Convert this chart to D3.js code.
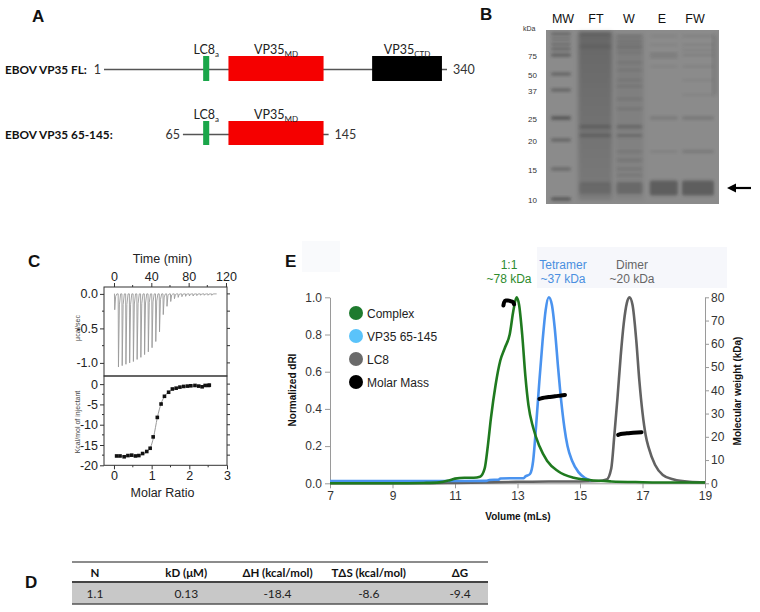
<!DOCTYPE html>
<html><head><meta charset="utf-8">
<script src="https://cdn.jsdelivr.net/npm/d3@7"></script>
<style>body{margin:0;background:#fff}svg{display:block}</style>
</head><body><svg id="fig" width="760" height="612"></svg>
<script>
// ================= DATA =================
// Panel A: construct schematic (schematic residue positions)
const constructNames = ["EBOV VP35 FL:", "EBOV VP35 65-145:"];
const constructStart = ["1", "65"];
const constructEnd = ["340", "145"];
const lineSpan = [[1, 340], [79, 223]];
const domainLabel = [["LC8", "a"], ["VP35", "MD"], ["VP35", "CTD"]];
const domainSpan = [[99, 105], [124, 218], [266, 335]];
const domainColors = ["#1aa64a", "#f50000", "#000000"];
const domainsPerConstruct = [[0, 1, 2], [0, 1]];

// Panel B: SDS-PAGE gel
const gelLanes = ["MW", "FT", "W", "E", "FW"];
const markerKDa = [75, 50, 37, 25, 20, 15, 10];
// bands: [kDa, intensity, thickness]
const bandsMW = [[250,0.35,3],[200,0.3,2],[160,0.3,3],[100,0.35,3],[75,0.45,3],[50,0.4,3],[37,0.4,3],[25,0.45,4],[20,0.4,3],[15,0.35,3],[10,0.55,3]];
const bandsFT = [[250,0.12,4],[130,0.1,4],[23,0.28,3],[21,0.25,3],[12,0.18,12]];
const bandsW  = [[230,0.15,2],[180,0.15,2],[140,0.15,2],[110,0.12,2],[85,0.12,2],[65,0.12,2],[55,0.12,2],[45,0.12,2],[40,0.15,2],[33,0.15,2],[29,0.15,2],[23,0.3,3],[21,0.25,3],[18,0.15,2],[16.5,0.18,2],[15,0.15,2],[14,0.15,2],[12,0.25,12]];
const bandsE  = [[230,0.08,2],[150,0.08,2],[80,0.2,2],[72,0.18,2],[60,0.08,2],[25,0.18,3],[18,0.12,2],[12,0.42,15]];
const bandsFW = [[230,0.1,2],[150,0.1,2],[95,0.1,2],[75,0.12,2],[60,0.1,2],[45,0.08,2],[35,0.08,2],[25,0.2,3],[18,0.17,3],[12,0.42,15]];
const gelBands = [bandsMW, bandsFT, bandsW, bandsE, bandsFW];
const smearFT = [0.26, 0.12];   // top/bottom smear density
const smearW = [0.1, 0.06];

// Panel C: ITC raw thermogram
const injTime = [0.5,4.5,8.5,12.5,16.5,20.5,24.5,28.5,32.5,36.5,40.5,44.5,48.5,52.5,56.5,60.5,64.5,68.5,72.5,76.5,80.5,84.5,88.5,92.5,96.5,100.5,104.5];
const injPeak = [-0.23,-1.06,-1.04,-1.02,-1.0,-0.98,-0.95,-0.92,-0.88,-0.84,-0.78,-0.69,-0.55,-0.30,-0.18,-0.11,-0.07,-0.05,-0.04,-0.035,-0.03,-0.03,-0.025,-0.02,-0.02,-0.02,-0.02];
const timeTicks = [0, 40, 80, 120];
// ITC integrated heats
const molarRatio = [0.07,0.16,0.27,0.37,0.47,0.57,0.66,0.76,0.87,0.96,1.04,1.15,1.25,1.34,1.45,1.55,1.65,1.75,1.85,1.95,2.04,2.15,2.25,2.34,2.42,2.51,2.53];
const heat = [-17.7,-17.7,-17.9,-17.6,-17.5,-17.7,-17.6,-17.1,-16.6,-15.8,-13.0,-8.2,-4.9,-3.0,-2.0,-1.2,-1.0,-0.74,-0.57,-0.49,-0.41,-0.33,-0.49,-0.66,-0.33,-0.33,-0.25];
const ratioTicks = [0, 1, 2, 3];
const fitRatio = [0.07,0.5,0.75,0.88,0.97,1.05,1.15,1.25,1.35,1.5,1.7,2.0,2.3,2.55];
const fitHeat = [-17.8,-17.75,-17.3,-16.6,-15.6,-13.1,-8.3,-4.8,-2.9,-1.6,-0.9,-0.55,-0.4,-0.3];

// Panel D: thermodynamic table
const tableHeaders = ["N", "kD (\u03BCM)", "\u0394H (kcal/mol)", "T\u0394S (kcal/mol)", "\u0394G"];
const tableValues = ["1.1", "0.13", "-18.4", "-8.6", "-9.4"];

// Panel E: SEC-MALS
const seriesNames = ["Complex", "VP35 65-145", "LC8", "Molar Mass"];
const complexVol = [7,8,9,10,10.5,10.8,11,11.3,11.6,11.8,11.95,12.05,12.15,12.3,12.45,12.6,12.75,12.87,12.97,13.05,13.15,13.25,13.35,13.5,13.7,13.95,14.3,14.8,15.3,16,17,18,19];
const complexDRI = [0,0,0,0.002,0.005,0.015,0.025,0.03,0.03,0.035,0.08,0.2,0.35,0.53,0.66,0.73,0.8,0.93,1.0,0.96,0.8,0.58,0.42,0.3,0.2,0.12,0.065,0.03,0.018,0.01,0.006,0.004,0.004];
const vp35Vol = [7,9,11,12,12.1,12.4,12.45,13.2,13.25,13.4,13.5,13.6,13.7,13.8,13.9,14.0,14.1,14.2,14.3,14.4,14.5,14.6,14.75,14.95,15.15,15.35];
const vp35DRI = [0.012,0.012,0.012,0.013,0.018,0.02,0.026,0.028,0.036,0.05,0.12,0.32,0.55,0.76,0.93,1.0,0.96,0.82,0.62,0.44,0.3,0.2,0.12,0.06,0.03,0.015];
const lc8Vol = [7,10,11,12,13,14,15,15.6,15.85,16.0,16.1,16.2,16.3,16.4,16.5,16.58,16.68,16.8,16.9,17.0,17.1,17.2,17.4,17.65,18,18.5,19];
const lc8DRI = [0,0,0.002,0.005,0.008,0.01,0.01,0.012,0.02,0.08,0.26,0.46,0.68,0.86,0.97,1.0,0.96,0.77,0.55,0.38,0.26,0.19,0.1,0.045,0.02,0.008,0.005];
const mmComplexVol = [12.55,12.57,12.62,12.7,12.78,12.85,12.89];
const mmComplexKDa = [76.5,77.8,78.6,78.6,78.3,78.0,77.0];
const mmTetVol = [13.7,13.8,14.0,14.2,14.4,14.52];
const mmTetKDa = [36.3,36.7,37.1,37.4,37.8,38.0];
const mmDimVol = [16.22,16.3,16.5,16.7,16.97];
const mmDimKDa = [20.8,21.2,21.5,21.7,22.0];
const peakTop = ["1:1", "Tetramer", "Dimer"];
const peakBottom = ["~78 kDa", "~37 kDa", "~20 kDa"];
const volTicks = [7, 9, 11, 13, 15, 17, 19];
const driTicks = [0, 0.2, 0.4, 0.6, 0.8, 1.0];
const mwTicks = [0, 10, 20, 30, 40, 50, 60, 70, 80];

// ================= DRAW =================
const ARIAL = "'Liberation Sans', Arial, sans-serif";
const CAL = "Lato, 'Open Sans', sans-serif";
const svg = d3.select("#fig");
svg.append("rect").attr("width", 760).attr("height", 612).attr("fill", "#fff");
const defs = svg.append("defs");
defs.append("filter").attr("id", "blur").attr("x", "-20%").attr("y", "-80%").attr("width", "140%").attr("height", "260%")
  .append("feGaussianBlur").attr("stdDeviation", 1.5);
defs.append("filter").attr("id", "blur2").attr("x", "-20%").attr("y", "-20%").attr("width", "140%").attr("height", "140%")
  .append("feGaussianBlur").attr("stdDeviation", 2.2);

function txt(g, s, x, y, o = {}) {
  return g.append("text").attr("x", x).attr("y", y).text(s)
    .attr("font-family", o.ff || ARIAL).attr("font-size", o.fs || 12)
    .attr("font-weight", o.fw || "normal").attr("fill", o.fill || "#222")
    .attr("text-anchor", o.anchor || "start");
}
// panel letters
[["A", 32, 22], ["B", 480, 20], ["C", 28, 267], ["E", 285, 267], ["D", 25, 588]].forEach(d =>
  txt(svg, d[0], d[1], d[2], { fs: 17, fw: "bold", fill: "#111" }));

// ---------- Panel A ----------
(function () {
  const g = svg.append("g");
  const x = d3.scaleLinear().domain([1, 340]).range([104, 447]);
  const boxTop = [56, 121], boxH = [25, 24], lineY = [69.5, 134.5];
  constructNames.forEach((name, i) => {
    txt(g, name, 5, lineY[i] + 4, { ff: CAL, fs: 11.8, fw: "bold", fill: "#111" });
    g.append("line").attr("x1", x(lineSpan[i][0])).attr("x2", x(lineSpan[i][1]))
      .attr("y1", lineY[i]).attr("y2", lineY[i]).attr("stroke", "#555").attr("stroke-width", 1.6);
    txt(g, constructStart[i], x(lineSpan[i][0]) - 3, lineY[i] + 4.5, { ff: CAL, fs: 12.5, anchor: "end", fill: "#333" });
    txt(g, constructEnd[i], x(lineSpan[i][1]) + 6, lineY[i] + 4.5, { ff: CAL, fs: 12.5, fill: "#333" });
    domainsPerConstruct[i].forEach(di => {
      const [s, e] = domainSpan[di];
      g.append("rect").attr("x", x(s)).attr("width", x(e) - x(s)).attr("y", boxTop[i]).attr("height", boxH[i])
        .attr("fill", domainColors[di]);
      const t = txt(g, domainLabel[di][0], (x(s) + x(e)) / 2, boxTop[i] - 2, { ff: CAL, fs: 12.5, anchor: "middle", fill: "#222" });
      t.append("tspan").attr("font-size", 8).attr("dy", 3).text(domainLabel[di][1]);
    });
  });
})();

// ---------- Panel B ----------
(function () {
  const g = svg.append("g");
  const gx0 = 546, gx1 = 719, gy0 = 30, gy1 = 204;
  const y = d3.scaleLinear().domain([250, 200, 160, 100, 75, 50, 37, 25, 20, 15, 12, 10])
    .range([34, 39, 44, 49, 55, 74, 90, 118, 140, 169, 188, 199]);
  const x = d3.scalePoint().domain(gelLanes).range([561, 698]);
  const laneW = [22, 34, 28, 30, 34];
  g.append("rect").attr("x", gx0).attr("y", gy0).attr("width", gx1 - gx0).attr("height", gy1 - gy0).attr("fill", "#8b8b8b");
  const gg = g.append("g");
  const grad = defs.append("linearGradient").attr("id", "smear").attr("x1", 0).attr("x2", 0).attr("y1", 0).attr("y2", 1);
  grad.append("stop").attr("offset", 0).attr("stop-color", "#000").attr("stop-opacity", smearFT[0]);
  grad.append("stop").attr("offset", 1).attr("stop-color", "#000").attr("stop-opacity", smearFT[1]);
  const grad2 = defs.append("linearGradient").attr("id", "smear2").attr("x1", 0).attr("x2", 0).attr("y1", 0).attr("y2", 1);
  grad2.append("stop").attr("offset", 0).attr("stop-color", "#000").attr("stop-opacity", smearW[0]);
  grad2.append("stop").attr("offset", 1).attr("stop-color", "#000").attr("stop-opacity", smearW[1]);
  gg.append("rect").attr("x", x("FT") - laneW[1] / 2).attr("width", laneW[1]).attr("y", gy0 + 2).attr("height", gy1 - gy0 - 6)
    .attr("fill", "url(#smear)").attr("filter", "url(#blur2)");
  gg.append("rect").attr("x", x("W") - laneW[2] / 2).attr("width", laneW[2]).attr("y", gy0 + 4).attr("height", gy1 - gy0 - 8)
    .attr("fill", "url(#smear2)").attr("filter", "url(#blur2)");
  gg.append("rect").attr("x", gx1 - 7).attr("width", 5).attr("y", gy0 + 5).attr("height", 60).attr("fill", "#000").attr("opacity", 0.1).attr("filter", "url(#blur2)");
  gelLanes.forEach((ln, i) => {
    gelBands[i].forEach(b => {
      gg.append("rect").attr("x", x(ln) - laneW[i] / 2 + 1).attr("width", laneW[i] - 2)
        .attr("y", y(b[0]) - b[2] / 2).attr("height", b[2]).attr("rx", 2)
        .attr("fill", "#222").attr("opacity", b[1]).attr("filter", "url(#blur)");
    });
  });
  const lx = d3.scalePoint().domain(gelLanes).range([563, 695]);
  gelLanes.forEach(ln => txt(g, ln, lx(ln), 23, { fs: 12.5, anchor: "middle", fill: "#111" }));
  txt(g, "kDa", 523, 31, { fs: 7, fill: "#333" });
  markerKDa.forEach(k => txt(g, String(k), 528, y(k) + 4, { fs: 8, fill: "#333" }));
  const ay = y(12);
  g.append("line").attr("x1", 734).attr("x2", 751).attr("y1", ay).attr("y2", ay).attr("stroke", "#000").attr("stroke-width", 2.2);
  g.append("path").attr("d", `M727,${ay} L736,${ay - 4.5} L736,${ay + 4.5} Z`).attr("fill", "#000");
})();

// ---------- Panel C ----------
(function () {
  const g = svg.append("g");
  const L = 104, R = 227, T1 = 287, M = 376, B2 = 465.3;
  const xt = d3.scaleLinear().domain([-10.7, 121.1]).range([L, R]);
  const y1 = d3.scaleLinear().domain([-1.19, 0.1]).range([M, T1]);
  const xr = d3.scaleLinear().domain([-0.265, 3]).range([L, R]);
  const y2 = d3.scaleLinear().domain([-20, 2]).range([B2, M]);
  const pts = [[0, 0]];
  injTime.forEach((t, i) => {
    const p = injPeak[i];
    pts.push([t, 0], [t + 0.3, p], [t + 1.3, p * 0.15], [t + 2.6, 0]);
  });
  pts.push([110, 0]);
  g.append("path").attr("d", d3.line().x(d => xt(d[0])).y(d => y1(d[1]))(pts))
    .attr("fill", "none").attr("stroke", "#9a9a9a").attr("stroke-width", 0.9);
  g.append("path").attr("d", d3.line().curve(d3.curveMonotoneX).x((d, i) => xr(fitRatio[i])).y((d, i) => y2(fitHeat[i]))(fitRatio))
    .attr("fill", "none").attr("stroke", "#999").attr("stroke-width", 1);
  g.selectAll(".pt").data(molarRatio).enter().append("rect")
    .attr("x", (d) => xr(d) - 1.8).attr("y", (d, i) => y2(heat[i]) - 1.8).attr("width", 3.6).attr("height", 3.6).attr("fill", "#111");
  [[T1, M], [M, B2]].forEach(([a, b]) => g.append("rect").attr("x", L).attr("y", a).attr("width", R - L).attr("height", b - a)
    .attr("fill", "none").attr("stroke", "#333").attr("stroke-width", 1));
  const tk = (sel) => sel.attr("stroke", "#333").attr("stroke-width", 1);
  const axT = g.append("g").attr("transform", `translate(0,${T1})`)
    .call(d3.axisTop(xt).tickValues(timeTicks).tickSize(4).tickPadding(2).tickSizeOuter(0));
  const axB = g.append("g").attr("transform", `translate(0,${B2})`)
    .call(d3.axisBottom(xr).tickValues(ratioTicks).tickFormat(d3.format("d")).tickSize(4).tickPadding(2).tickSizeOuter(0));
  const axL1 = g.append("g").attr("transform", `translate(${L},0)`)
    .call(d3.axisLeft(y1).tickValues([0, -0.5, -1.0]).tickFormat(d3.format(".1f")).tickSize(4).tickPadding(2).tickSizeOuter(0));
  const axL2 = g.append("g").attr("transform", `translate(${L},0)`)
    .call(d3.axisLeft(y2).tickValues([0, -5, -10, -15, -20]).tickFormat(d3.format("d")).tickSize(4).tickPadding(2).tickSizeOuter(0));
  [axT, axB, axL1, axL2].forEach(a => {
    a.select(".domain").remove();
    a.selectAll("line").call(tk);
    a.selectAll("text").attr("font-family", ARIAL).attr("font-size", 12.5).attr("fill", "#222")
      .text(function () { return this.textContent.replace("\u2212", "-"); });
  });
  [-0.25, -0.75].forEach(v => g.append("line").attr("x1", L - 2).attr("x2", L).attr("y1", y1(v)).attr("y2", y1(v)).call(tk));
  [-2.5, -7.5, -12.5, -17.5].forEach(v => g.append("line").attr("x1", L - 2).attr("x2", L).attr("y1", y2(v)).attr("y2", y2(v)).call(tk));
  [0, -0.25, -0.5, -0.75, -1.0].forEach(v => g.append("line").attr("x1", R).attr("x2", R + 3).attr("y1", y1(v)).attr("y2", y1(v)).call(tk));
  [0, -2.5, -5, -7.5, -10, -12.5, -15, -17.5].forEach(v => g.append("line").attr("x1", R).attr("x2", R + 3).attr("y1", y2(v)).attr("y2", y2(v)).call(tk));
  [20, 60, 100].forEach(v => g.append("line").attr("x1", xt(v)).attr("x2", xt(v)).attr("y1", T1 - 2).attr("y2", T1).call(tk));
  [0.5, 1.5, 2.5].forEach(v => g.append("line").attr("x1", xr(v)).attr("x2", xr(v)).attr("y1", B2).attr("y2", B2 + 2).call(tk));
  txt(g, "Time (min)", (L + R) / 2 - 3, 263, { fs: 12.5, anchor: "middle" });
  txt(g, "Molar Ratio", (L + R) / 2 - 3, 496.5, { fs: 12.5, anchor: "middle" });
  txt(g, "\u03BCcal/sec", 0, 0, { fs: 7, anchor: "middle", fill: "#444" }).attr("transform", "translate(80,328) rotate(-90)");
  txt(g, "Kcal/mol of injectant", 0, 0, { fs: 7, anchor: "middle", fill: "#444" }).attr("transform", "translate(80,422) rotate(-90)");
})();

// ---------- Panel E ----------
(function () {
  const g = svg.append("g");
  const x = d3.scaleLinear().domain([7, 19]).range([330, 705]);
  const y = d3.scaleLinear().domain([0, 1]).range([483.3, 297.3]);
  const y2 = d3.scaleLinear().domain([0, 80]).range([483.3, 297.3]);
  g.append("rect").attr("x", 537).attr("y", 247).attr("width", 190).attr("height", 41).attr("fill", "#f6f7fb");
  g.append("rect").attr("x", 302).attr("y", 241).attr("width", 38).attr("height", 31).attr("fill", "#f9fafc");
  const axStyle = (a) => {
    a.select(".domain").attr("stroke", "#9a9a9a");
    a.selectAll("line").attr("stroke", "#9a9a9a");
    a.selectAll("text").attr("font-family", ARIAL).attr("font-size", 12).attr("fill", "#333");
  };
  g.append("g").attr("transform", "translate(0,483.3)")
    .call(d3.axisBottom(x).tickValues(volTicks).tickSize(5).tickPadding(3).tickSizeOuter(0)).call(axStyle);
  g.append("g").attr("transform", "translate(330,0)")
    .call(d3.axisLeft(y).tickValues(driTicks).tickFormat(d3.format(".1f")).tickSize(5).tickPadding(3).tickSizeOuter(0)).call(axStyle);
  g.append("g").attr("transform", "translate(705,0)")
    .call(d3.axisRight(y2).tickValues(mwTicks).tickSize(4).tickPadding(2).tickSizeOuter(0)).call(axStyle);
  txt(g, "Volume (mLs)", 518, 520, { fs: 10, fw: "bold", anchor: "middle", fill: "#111" });
  txt(g, "Normalized dRI", 0, 0, { fs: 10, fw: "bold", anchor: "middle", fill: "#111" }).attr("transform", "translate(296,390) rotate(-90)");
  txt(g, "Molecular weight (kDa)", 0, 0, { fs: 10, fw: "bold", anchor: "middle", fill: "#111" }).attr("transform", "translate(741,391) rotate(-90)");
  const line = d3.line().curve(d3.curveMonotoneX);
  const series = [
    [lc8Vol, lc8DRI, "#626262"],
    [vp35Vol, vp35DRI, "#4a93ef"],
    [complexVol, complexDRI, "#1f7a1f"]
  ];
  series.forEach(([vx, vy, c]) => {
    g.append("path").attr("d", line(vx.map((v, i) => [x(v), y(vy[i])])))
      .attr("fill", "none").attr("stroke", c).attr("stroke-width", 2.6).attr("stroke-linejoin", "round");
  });
  [[mmComplexVol, mmComplexKDa], [mmTetVol, mmTetKDa], [mmDimVol, mmDimKDa]].forEach(([vx, vy]) => {
    g.append("path").attr("d", line(vx.map((v, i) => [x(v), y2(vy[i])])))
      .attr("fill", "none").attr("stroke", "#000").attr("stroke-width", 4).attr("stroke-linecap", "round");
  });
  const annColors = ["#2e8b2e", "#4a8fe0", "#666"];
  const annX = [509, 563, 632];
  peakTop.forEach((t, i) => {
    txt(g, t, annX[i], 269, { fs: 12, anchor: "middle", fill: annColors[i] });
    txt(g, peakBottom[i], annX[i], 283, { fs: 12, anchor: "middle", fill: annColors[i] });
  });
  const legColors = ["#1e7a2e", "#5ac3fa", "#6a6a6a", "#000"];
  const legY = d3.scalePoint().domain(seriesNames).range([313, 382]);
  seriesNames.forEach((s, i) => {
    g.append("circle").attr("cx", 356).attr("cy", legY(s)).attr("r", 7).attr("fill", legColors[i]);
    txt(g, s, 367, legY(s) + 4.5, { fs: 12, fill: "#222" });
  });
})();

// ---------- Panel D ----------
(function () {
  const g = svg.append("g");
  const x = d3.scalePoint().domain(tableHeaders).range([95, 460]);
  g.append("rect").attr("x", 72).attr("y", 582).attr("width", 416).attr("height", 22).attr("fill", "#c8c8c8");
  g.append("line").attr("x1", 72).attr("x2", 488).attr("y1", 562).attr("y2", 562).attr("stroke", "#666").attr("stroke-width", 1.5);
  g.append("line").attr("x1", 72).attr("x2", 488).attr("y1", 582).attr("y2", 582).attr("stroke", "#444").attr("stroke-width", 2);
  g.append("line").attr("x1", 72).attr("x2", 488).attr("y1", 604).attr("y2", 604).attr("stroke", "#555").attr("stroke-width", 1.5);
  tableHeaders.forEach((h, i) => {
    txt(g, h, x(h), 577, { ff: CAL, fs: 11.5, fw: "bold", anchor: "middle", fill: "#111" });
    txt(g, tableValues[i], x(h), 597.5, { ff: CAL, fs: 12, anchor: "middle", fill: "#222" });
  });
})();
</script></body></html>
